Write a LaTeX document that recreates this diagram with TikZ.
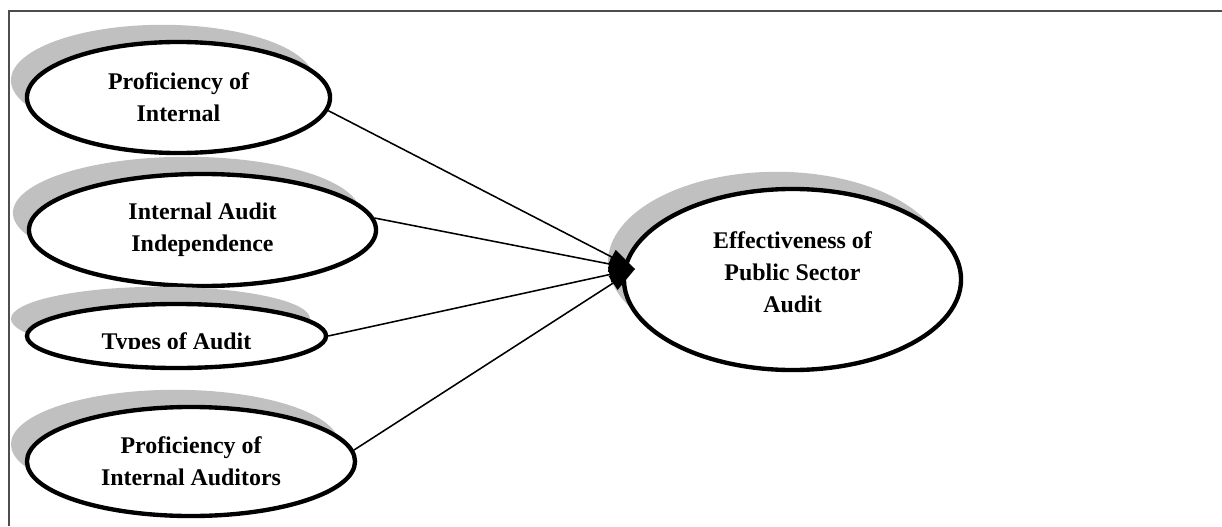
\documentclass[tikz,border=0pt]{standalone}
\usepackage{fontspec}
\setmainfont{Liberation Serif}
\usepackage{tikz}
\usetikzlibrary{shapes.geometric}
\usetikzlibrary{shadows}
\usetikzlibrary{arrows.meta}
\usepackage{xcolor}
\definecolor{shadowgray}{HTML}{C0C0C0}
\definecolor{framegray}{HTML}{4D4D4D}

\begin{document}
\begin{tikzpicture}[x=0.025cm, y=-0.025cm,
        var/.style={draw, ellipse, line width=3.1pt, fill=white, align=center, inner sep=0pt,
            font=\fontsize{17}{22.5}\selectfont\bfseries,
            general shadow={fill=shadowgray, shadow xshift=-0.4cm, shadow yshift=0.43cm}},
        link/.style={-{Triangle[length=0.65cm, width=0.4cm]}, line width=1.1pt}]
        \useasboundingbox (0,0) rectangle (1222,526);
        % frame
        \draw[framegray, line width=1.5pt] (9,526) -- (9,11) -- (1222,11);
        % nodes
        \node[var, minimum width=7.575cm, minimum height=2.775cm] (profint) at (178.5,97.5) {Proficiency of\\Internal};
        \node[var, minimum width=8.675cm, minimum height=2.8cm] (indep) at (202.5,230) {Internal Audit\\Independence};
        \node[var, minimum width=7.475cm, minimum height=1.6cm] (types) at (176.5,336) {};
        \node[var, minimum width=8.2cm, minimum height=2.725cm] (profaud) at (191,461.5) {Proficiency of\\Internal Auditors};
        \node[var, minimum width=8.425cm, minimum height=4.525cm, text depth=0.37cm] (effect) at (792.5,279.5) {Effectiveness of\\Public Sector\\Audit};
        % the label of types is cut at its base line
        \begin{scope}
            \clip (40,300) rectangle (320,348.5);
            \node[anchor=base, font=\fontsize{17}{22.5}\selectfont\bfseries] (typestext) at (176.5,349) {Types of Audit};
        \end{scope}
        \coordinate (tip) at (635,269);
        % arrows
        \draw[link] (profint.-5) -- (tip);
        \draw[link] (indep.4) -- (tip);
        \draw[link] (types.east) -- (tip);
        \draw[link] (profaud.4) -- (tip);
\end{tikzpicture}
\end{document}
